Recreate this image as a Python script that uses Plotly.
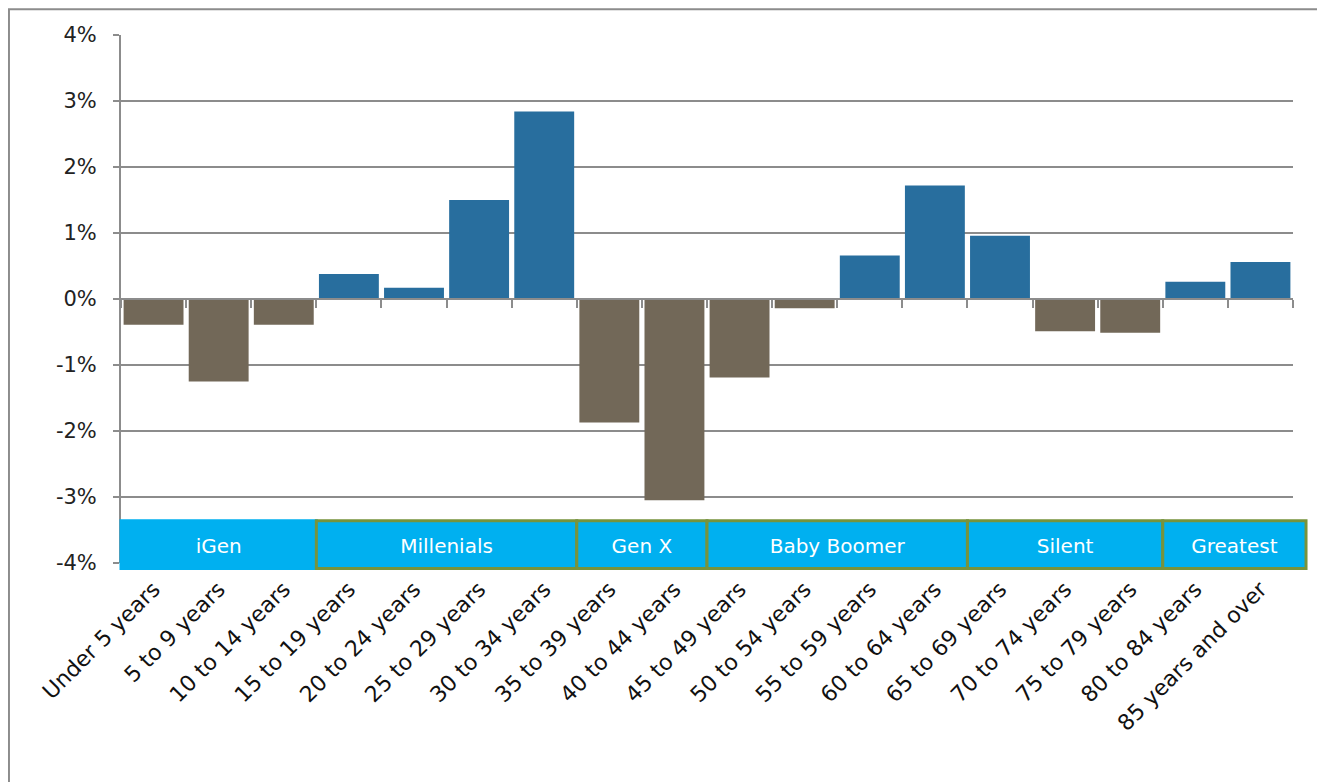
import plotly.graph_objects as go

# Change in share of population by age group (percentage points)
age_groups = [
    "Under 5 years", "5 to 9 years", "10 to 14 years", "15 to 19 years",
    "20 to 24 years", "25 to 29 years", "30 to 34 years", "35 to 39 years",
    "40 to 44 years", "45 to 49 years", "50 to 54 years", "55 to 59 years",
    "60 to 64 years", "65 to 69 years", "70 to 74 years", "75 to 79 years",
    "80 to 84 years", "85 years and over",
]
change_pct = [
    -0.39, -1.25, -0.39, 0.38, 0.17, 1.50, 2.84, -1.87, -3.05,
    -1.19, -0.14, 0.66, 1.72, 0.96, -0.49, -0.51, 0.26, 0.56,
]

# generation bands: name, first and last age group index
generations = ["iGen", "Millenials", "Gen X", "Baby Boomer", "Silent", "Greatest"]
gen_first = [0, 3, 7, 9, 13, 16]
gen_last = [2, 6, 8, 12, 15, 17]

y_ticks = [-4, -3, -2, -1, 0, 1, 2, 3, 4]
y_tick_labels = ["-4%", "-3%", "-2%", "-1%", "0%", "1%", "2%", "3%", "4%"]

BLUE = "#286E9E"
BROWN = "#726858"
BAND = "#00B0F0"
OLIVE = "#77933C"
GRID = "#8C8C8C"
FONT = "DejaVu Sans"

bar_colors = [BLUE if v > 0 else BROWN for v in change_pct]

fig = go.Figure()
fig.add_trace(go.Bar(
    x=age_groups, y=change_pct,
    marker=dict(color=bar_colors, line=dict(width=0)),
    showlegend=False,
))
# invisible trace that carries the zero-line axis with its boundary ticks
fig.add_trace(go.Scatter(
    x=age_groups, y=[0] * len(age_groups), mode="none",
    xaxis="x2", showlegend=False, hoverinfo="skip",
))

n = len(age_groups)
for i, name in enumerate(generations):
    x0 = gen_first[i] / n
    x1 = (gen_last[i] + 1) / n
    if name == "Greatest":
        x1 += 0.2 / n
    fig.add_shape(
        type="rect", xref="x domain", yref="y domain",
        x0=x0, x1=x1, y0=-0.0105, y1=0.08,
        fillcolor=BAND,
        line=dict(color=BAND if name == "iGen" else OLIVE, width=3),
        label=dict(text=name, font=dict(color="white", size=20, family=FONT)),
        layer="above",
    )

# outer frame
fig.add_shape(
    type="rect", xref="paper", yref="paper",
    x0=-0.0956, x1=1.0256, y0=-0.6, y1=1.049,
    line=dict(color=GRID, width=2), fillcolor="rgba(0,0,0,0)",
)

fig.update_layout(
    width=1317, height=774,
    margin=dict(l=113, r=32, t=27, b=219),
    paper_bgcolor="white", plot_bgcolor="white",
    font=dict(family=FONT, size=21, color="#222222"),
    bargap=0.08,
    xaxis=dict(
        type="category", range=[-0.5, n - 0.5],
        tickangle=-45, showgrid=False, showline=False, zeroline=False,
        ticks="", ticklabelstandoff=8,
        tickfont=dict(size=22, color="#111111"),
    ),
    xaxis2=dict(
        type="category", overlaying="x", anchor="free", position=0.5,
        range=[-0.5, n - 0.5], showticklabels=False, showgrid=False,
        showline=True, linecolor=GRID, linewidth=2,
        ticks="outside", tickson="boundaries", ticklen=8, tickcolor=GRID,
        tickwidth=2,
    ),
    yaxis=dict(
        range=[-4, 4], tickvals=y_ticks, ticktext=y_tick_labels,
        showgrid=True, gridcolor=GRID, gridwidth=2, zeroline=False,
        showline=True, linecolor=GRID, linewidth=2,
        ticks="outside", ticklen=6, tickcolor=GRID, tickwidth=2,
        ticklabelstandoff=12,
        tickfont=dict(size=21, color="#222222"),
    ),
)

fig.write_html("out.html")
